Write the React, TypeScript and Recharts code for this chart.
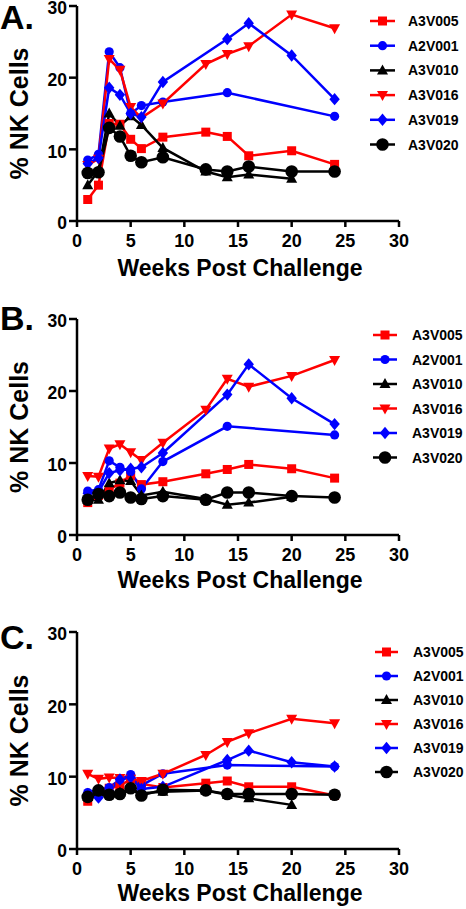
import React from 'react';
import { LineChart, Line, XAxis, YAxis } from 'recharts';

const FONT = '"Liberation Sans", Arial, Helvetica, sans-serif';

// weeks sampled per animal
const WEEKS_ALL = [1, 2, 3, 4, 5, 6, 8, 12, 14, 16, 20, 24];
const WEEKS_A2V001 = [1, 2, 3, 4, 5, 6, 8, 14, 24];
const WEEKS_A3V010 = [1, 2, 3, 4, 5, 6, 8, 12, 14, 16, 20];
const WEEKS_A3V019 = [1, 2, 3, 4, 5, 6, 8, 14, 16, 20, 24];

const X_TICKS = [0, 5, 10, 15, 20, 25, 30];
const Y_TICKS = [0, 10, 20, 30];

// panel A
const A_A3V005 = [3.0, 5.0, 13.6, 13.5, 11.4, 10.1, 11.7, 12.4, 11.8, 9.1, 9.8, 7.9];
const A_A2V001 = [8.5, 9.3, 23.6, 21.4, 15.0, 16.1, 16.6, 17.9, 14.6];
const A_A3V010 = [5.0, 7.0, 15.0, 13.3, 14.6, 13.4, 10.2, 6.9, 6.1, 6.5, 5.9];
const A_A3V016 = [7.8, 8.7, 22.6, 21.1, 15.9, 14.4, 16.4, 21.9, 23.3, 24.4, 28.8, 26.9];
const A_A3V019 = [8.0, 8.8, 18.6, 17.6, 15.0, 14.5, 19.4, 25.4, 27.6, 23.1, 17.0];
const A_A3V020 = [6.7, 6.8, 13.0, 11.8, 9.1, 8.2, 8.9, 7.2, 6.9, 7.6, 6.9, 6.9];

// panel B
const B_A3V005 = [4.5, 5.5, 6.3, 7.2, 8.3, 7.0, 7.4, 8.5, 9.1, 9.8, 9.2, 7.9];
const B_A2V001 = [6.1, 6.3, 10.3, 9.4, 8.8, 6.4, 10.2, 15.1, 13.9];
const B_A3V010 = [4.9, 4.9, 7.2, 7.6, 7.5, 5.5, 6.0, 5.0, 4.2, 4.5, 5.3];
const B_A3V016 = [8.2, 8.1, 12.0, 12.6, 11.5, 10.4, 12.8, 17.4, 21.7, 20.6, 22.1, 24.3];
const B_A3V019 = [5.8, 6.0, 8.6, 9.0, 9.2, 9.4, 11.4, 19.5, 23.7, 19.0, 15.4];
const B_A3V020 = [4.9, 5.7, 5.4, 5.9, 5.2, 5.0, 5.4, 4.9, 5.9, 5.9, 5.4, 5.2];

// panel C
const C_A3V005 = [6.6, 8.0, 8.4, 8.7, 9.7, 9.0, 8.5, 9.1, 9.4, 8.6, 8.6, 7.4];
const C_A2V001 = [7.8, 8.2, 8.5, 9.6, 10.3, 8.8, 10.4, 11.6, 11.4];
const C_A3V010 = [7.2, 7.8, 7.6, 7.8, 8.3, 7.7, 7.9, 8.1, 7.5, 7.0, 6.1];
const C_A3V016 = [10.4, 9.7, 9.9, 9.8, 9.7, 9.4, 10.4, 13.0, 14.8, 16.0, 18.0, 17.4];
const C_A3V019 = [7.6, 7.1, 8.0, 9.6, 9.9, 8.3, 8.6, 12.3, 13.6, 12.0, 11.4];
const C_A3V020 = [7.2, 8.1, 7.5, 7.6, 8.4, 7.4, 8.2, 8.1, 7.6, 7.6, 7.6, 7.5];

const SERIES_NAMES = ['A3V005', 'A2V001', 'A3V010', 'A3V016', 'A3V019', 'A3V020'];
const SERIES_WEEKS = [WEEKS_ALL, WEEKS_A2V001, WEEKS_A3V010, WEEKS_ALL, WEEKS_A3V019, WEEKS_ALL];
const SERIES_COLORS = ['#ff0000', '#0000ff', '#000000', '#ff0000', '#0000ff', '#000000'];
const SERIES_SHAPES = ['square', 'circle', 'triUp', 'triDown', 'diamond', 'bigCircle'];

// layout: page coordinates (chart top sits PLOT_TOP above the 30 tick)
const PANELS = [
  {
    letter: 'A.', top: -10, plotH: 215, letterY: 29, titleDy: 55,
    legendY: 21, legendStep: 24.7, lineX0: 370, lineX1: 395, textX: 408,
    values: [A_A3V005, A_A2V001, A_A3V010, A_A3V016, A_A3V019, A_A3V020],
  },
  {
    letter: 'B.', top: 303, plotH: 216, letterY: 330, titleDy: 53,
    legendY: 335, legendStep: 24.5, lineX0: 373, lineX1: 397, textX: 412,
    values: [B_A3V005, B_A2V001, B_A3V010, B_A3V016, B_A3V019, B_A3V020],
  },
  {
    letter: 'C.', top: 616, plotH: 217, letterY: 649, titleDy: 52,
    legendY: 652, legendStep: 24, lineX0: 375, lineX1: 398, textX: 413,
    values: [C_A3V005, C_A2V001, C_A3V010, C_A3V016, C_A3V019, C_A3V020],
  },
];

const PLOT_TOP = 16;
const AXIS_H = 69;
const PLOT_LEFT = 77;
const PLOT_RIGHT = 399;

function Marker({ shape, cx, cy, color }: { shape: string; cx: number; cy: number; color: string }) {
  if (cx == null || cy == null) return null;
  switch (shape) {
    case 'square':
      return <rect x={cx - 4.5} y={cy - 4.5} width={9} height={9} fill={color} />;
    case 'circle':
      return <circle cx={cx} cy={cy} r={4.6} fill={color} />;
    case 'bigCircle':
      return <circle cx={cx} cy={cy} r={6.3} fill={color} />;
    case 'triUp':
      return <polygon points={`${cx},${cy - 6} ${cx + 5.5},${cy + 4} ${cx - 5.5},${cy + 4}`} fill={color} />;
    case 'triDown':
      return <polygon points={`${cx},${cy + 6} ${cx + 5.5},${cy - 4} ${cx - 5.5},${cy - 4}`} fill={color} />;
    case 'diamond':
      return <polygon points={`${cx},${cy - 6.2} ${cx + 5.2},${cy} ${cx},${cy + 6.2} ${cx - 5.2},${cy}`} fill={color} />;
    default:
      return null;
  }
}

function Panel({ panel }: { panel: (typeof PANELS)[number] }) {
  const height = PLOT_TOP + panel.plotH + AXIS_H;

  const YTitle = () => (
    <text
      transform={`translate(28, ${PLOT_TOP + panel.plotH / 2}) rotate(-90)`}
      textAnchor="middle"
      fontFamily={FONT}
      fontWeight={700}
      fontSize={25}
      fill="#000"
    >
      % NK Cells
    </text>
  );

  const XTitle = () => (
    <text
      x={(PLOT_LEFT + PLOT_RIGHT) / 2 + 2}
      y={PLOT_TOP + panel.plotH + panel.titleDy}
      textAnchor="middle"
      fontFamily={FONT}
      fontWeight={700}
      fontSize={23}
      fill="#000"
    >
      Weeks Post Challenge
    </text>
  );

  const xTick = { fill: '#000', fontSize: 18, fontWeight: 700, fontFamily: FONT };
  const yTick = { ...xTick, fontSize: 17.5, dy: 2 };

  return (
    <div style={{ position: 'absolute', left: 0, top: panel.top, width: 466, height }}>
      <LineChart
        width={466}
        height={height}
        margin={{ top: PLOT_TOP, right: 466 - PLOT_RIGHT, left: 0, bottom: 0 }}
      >
        <XAxis
          type="number"
          dataKey="week"
          domain={[0, 30]}
          ticks={X_TICKS}
          interval={0}
          height={AXIS_H}
          tickSize={6}
          tickMargin={7}
          tick={xTick}
          axisLine={{ stroke: '#000', strokeWidth: 2.5 }}
          tickLine={{ stroke: '#000', strokeWidth: 2.5 }}
          label={<XTitle />}
        />
        <YAxis
          type="number"
          domain={[0, 30]}
          ticks={Y_TICKS}
          interval={0}
          width={PLOT_LEFT}
          tickSize={8}
          tickMargin={2}
          tick={yTick}
          axisLine={{ stroke: '#000', strokeWidth: 2.5 }}
          tickLine={{ stroke: '#000', strokeWidth: 2.5 }}
          label={<YTitle />}
        />
        {SERIES_NAMES.map((name, i) => {
          const data = SERIES_WEEKS[i].map((week, j) => ({ week, value: panel.values[i][j] }));
          const color = SERIES_COLORS[i];
          const shape = SERIES_SHAPES[i];
          return (
            <Line
              key={name}
              data={data}
              dataKey="value"
              name={name}
              stroke={color}
              strokeWidth={2.5}
              isAnimationActive={false}
              activeDot={false}
              dot={(p: any) => (
                <Marker key={`${name}-${p.index}`} shape={shape} cx={p.cx} cy={p.cy} color={color} />
              )}
            />
          );
        })}
      </LineChart>
    </div>
  );
}

function Overlay() {
  return (
    <svg width={466} height={909} style={{ position: 'absolute', left: 0, top: 0, pointerEvents: 'none' }}>
      {PANELS.map((panel) => (
        <g key={panel.letter}>
          <text x={0} y={panel.letterY} fontFamily={FONT} fontWeight={700} fontSize={34} fill="#000">
            {panel.letter}
          </text>
          {SERIES_NAMES.map((name, i) => {
            const y = panel.legendY + i * panel.legendStep;
            const mid = (panel.lineX0 + panel.lineX1) / 2;
            return (
              <g key={name}>
                <line x1={panel.lineX0} x2={panel.lineX1} y1={y} y2={y} stroke={SERIES_COLORS[i]} strokeWidth={2.5} />
                <Marker shape={SERIES_SHAPES[i]} cx={mid} cy={y} color={SERIES_COLORS[i]} />
                <text x={panel.textX} y={y + 5} fontFamily={FONT} fontWeight={700} fontSize={14} fill="#000">
                  {name}
                </text>
              </g>
            );
          })}
        </g>
      ))}
    </svg>
  );
}

export default function App() {
  return (
    <div style={{ position: 'absolute', left: 0, top: 0, width: 466, height: 909, background: '#fff', overflow: 'hidden' }}>
      {PANELS.map((panel) => (
        <Panel key={panel.letter} panel={panel} />
      ))}
      <Overlay />
    </div>
  );
}
